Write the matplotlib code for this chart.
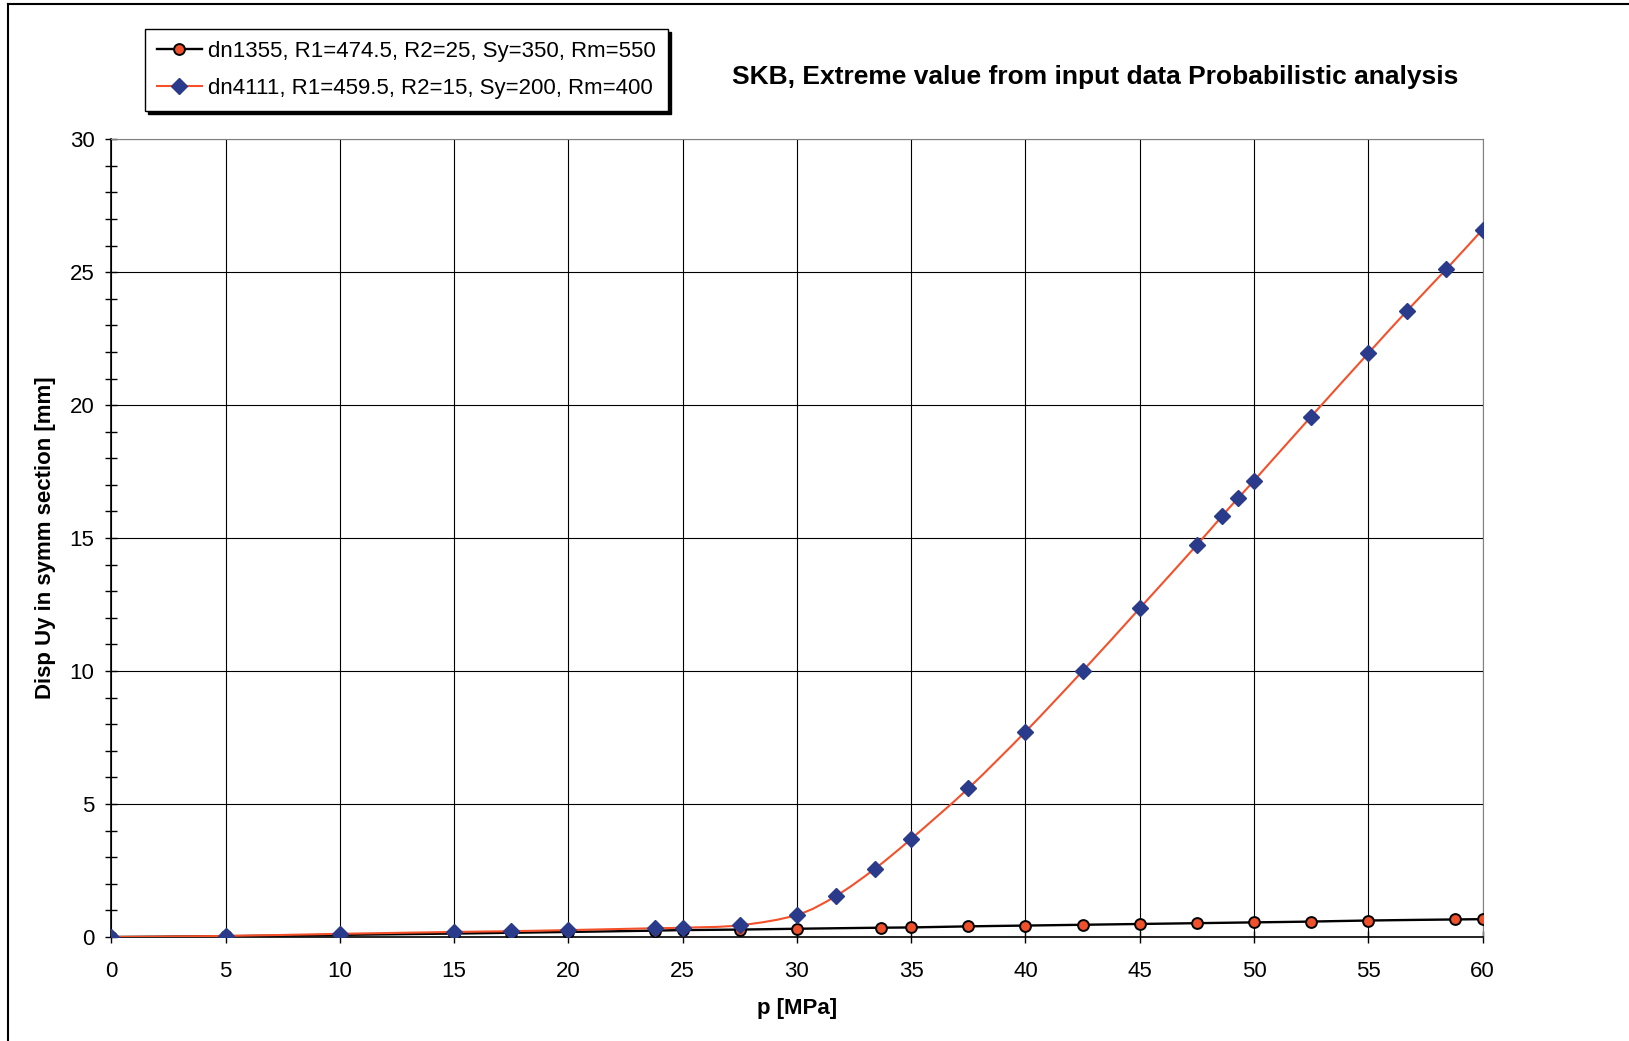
import numpy as np
import matplotlib
matplotlib.use("Agg")
import matplotlib.pyplot as plt
from matplotlib.path import Path
from matplotlib.patches import PathPatch
from matplotlib.lines import Line2D
from matplotlib.ticker import MultipleLocator

plt.rcParams['font.family'] = ['Liberation Sans', 'DejaVu Sans']

# Pressure p [MPa] and displacement Uy [mm] for the two load cases
p_dn1355 = [0, 5, 10, 15, 17.5, 20, 23.8, 25, 27.5, 30, 33.7, 35, 37.5, 40,
            42.5, 45, 47.5, 50, 52.5, 55, 58.8, 60]
u_dn1355 = [0, 0.03, 0.08, 0.13, 0.16, 0.19, 0.24, 0.26, 0.28, 0.31, 0.35, 0.36,
            0.40, 0.43, 0.46, 0.49, 0.52, 0.55, 0.58, 0.62, 0.66, 0.67]

p_dn4111 = [0, 5, 10, 15, 17.5, 20, 23.8, 25, 27.5, 30, 31.7, 33.4, 35, 37.5,
            40, 42.5, 45, 47.5, 48.6, 49.3, 50, 52.5, 55, 56.7, 58.4, 60]
u_dn4111 = [0, 0.04, 0.12, 0.19, 0.22, 0.26, 0.33, 0.35, 0.44, 0.83, 1.54, 2.56,
            3.69, 5.59, 7.72, 10.0, 12.36, 14.74, 15.83, 16.5, 17.16, 19.57,
            21.95, 23.55, 25.1, 26.6]

labels = ["dn1355, R1=474.5, R2=25, Sy=350, Rm=550",
          "dn4111, R1=459.5, R2=15, Sy=200, Rm=400"]
title = "SKB, Extreme value from input data Probabilistic analysis"
xlabel = "p [MPa]"
ylabel = "Disp Uy in symm section [mm]"

RED = '#f4502a'
ORANGE = '#f0502a'
NAVY = '#2b3b8c'


def smooth_path(x, y):
    """Cubic Bezier path through the points (Catmull-Rom style smoothing)."""
    pts = np.column_stack([x, y]).astype(float)
    n = len(pts)
    verts = [pts[0]]
    codes = [Path.MOVETO]
    for i in range(n - 1):
        p0 = pts[i - 1] if i > 0 else pts[i]
        p1 = pts[i]
        p2 = pts[i + 1]
        p3 = pts[i + 2] if i + 2 < n else pts[i + 1]
        verts += [p1 + (p2 - p0) / 6.0, p2 - (p3 - p1) / 6.0, p2]
        codes += [Path.CURVE4] * 3
    return Path(verts, codes)


fig = plt.figure(figsize=(16.29, 10.41), dpi=100)
ax = fig.add_axes([0.0683, 0.0999, 0.8418, 0.7664])

# dn1355 series
ax.add_patch(PathPatch(smooth_path(p_dn1355, u_dn1355), facecolor='none',
                       edgecolor='black', lw=1.7, zorder=3))
ax.plot(p_dn1355, u_dn1355, ls='none', marker='o', ms=7.8, mfc=ORANGE,
        mec='black', mew=1.4, zorder=4)

# dn4111 series
ax.add_patch(PathPatch(smooth_path(p_dn4111, u_dn4111), facecolor='none',
                       edgecolor=RED, lw=1.5, zorder=5))
ax.plot(p_dn4111, u_dn4111, ls='none', marker='D', ms=8, mfc=NAVY,
        mec=NAVY, zorder=6)

ax.set_xlim(0, 60)
ax.set_ylim(0, 30)
ax.xaxis.set_major_locator(MultipleLocator(5))
ax.yaxis.set_major_locator(MultipleLocator(5))
ax.yaxis.set_minor_locator(MultipleLocator(1))
ax.grid(True, which='major', color='black', lw=0.8)
ax.set_axisbelow(True)

for side in ('top', 'right'):
    ax.spines[side].set_color('#808080')
for side in ('left', 'bottom'):
    ax.spines[side].set_color('black')
    ax.spines[side].set_linewidth(1.2)

ax.tick_params(axis='both', which='both', direction='inout', length=8,
               width=1, labelsize=16)
ax.tick_params(axis='x', pad=13)
ax.tick_params(axis='y', pad=8)
ax.tick_params(axis='x', which='minor', bottom=False)

fig.text(0.028, 0.4831, ylabel, rotation=90, ha='center', va='center',
         fontsize=16, fontweight='bold')
fig.text(0.4893, 0.0317, xlabel, ha='center', va='center',
         fontsize=16, fontweight='bold')
fig.text(0.6726, 0.926, title, ha='center', va='center',
         fontsize=19, fontweight='bold')

# Outer frame (left and top edges)
fig.add_artist(Line2D([8 / 1629, 8 / 1629], [0, 1 - 4 / 1041],
                      transform=fig.transFigure, color='black', lw=1.5))
fig.add_artist(Line2D([8 / 1629, 1], [1 - 4 / 1041, 1 - 4 / 1041],
                      transform=fig.transFigure, color='black', lw=1.5))

h1 = Line2D([], [], color='black', lw=1.7, marker='o', ms=7.8, mfc=ORANGE,
            mec='black', mew=1.4)
h2 = Line2D([], [], color=RED, lw=1.5, marker='D', ms=8, mfc=NAVY, mec=NAVY)
leg = fig.legend([h1, h2], labels, loc='upper left',
                 bbox_to_anchor=(145 / 1629, 1 - 29 / 1041),
                 bbox_transform=fig.transFigure, fontsize=16, frameon=True,
                 fancybox=False, edgecolor='black', framealpha=1,
                 shadow={'color': 'black', 'alpha': 1}, borderaxespad=0,
                 handlelength=2.0, handletextpad=0.3, labelspacing=0.72,
                 borderpad=0.55)
leg.get_frame().set_linewidth(1.0)

fig.savefig('out.png', dpi=100)
